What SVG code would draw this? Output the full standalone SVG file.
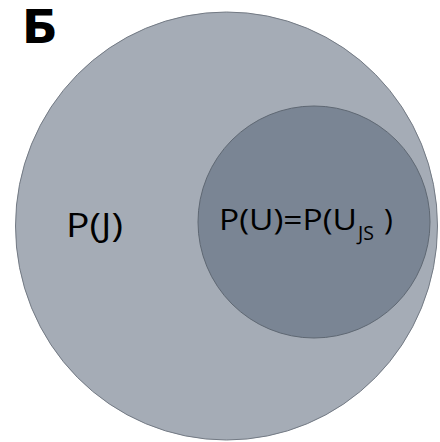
<svg xmlns="http://www.w3.org/2000/svg" width="440" height="442" viewBox="0 0 440 442">
<style>
.lbl{font-family:"Open Sans","DejaVu Sans",sans-serif;fill:#000}
</style>
<rect width="440" height="442" fill="#ffffff"/>
<g id="outer">
<ellipse cx="226.5" cy="226" rx="211" ry="214" fill="#a5acb6" stroke="#737a84" stroke-width="1"/>
<text class="lbl" x="66" y="237" font-size="32" textLength="57" lengthAdjust="spacingAndGlyphs">P(J)</text>
</g>
<g id="inner">
<circle cx="314" cy="222" r="116" fill="#7a8594" stroke="#5f6873" stroke-width="1"/>
<text class="lbl" x="219" y="230" font-size="30"><tspan textLength="138" lengthAdjust="spacingAndGlyphs">P(U)=P(U</tspan><tspan x="358" y="240" font-size="19.5">JS</tspan><tspan x="384" y="230">)</tspan></text>
</g>
<g id="title">
<text x="22" y="43" font-family="'DejaVu Sans',sans-serif" font-weight="bold" font-size="47">Б</text>
</g>
</svg>
